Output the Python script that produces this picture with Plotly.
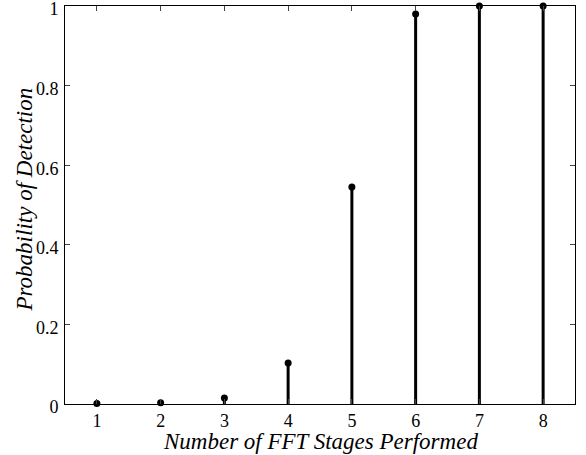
import plotly.graph_objects as go

stages = [1, 2, 3, 4, 5, 6, 7, 8]
prob_detection = [0.001, 0.003, 0.015, 0.103, 0.545, 0.98, 1.0, 1.0]
x_ticks = [1, 2, 3, 4, 5, 6, 7, 8]
y_ticks = [0, 0.2, 0.4, 0.6, 0.8, 1]
y_tick_labels = ["0", "0.2", "0.4", "0.6", "0.8", "1"]
x_title = "Number of FFT Stages Performed"
y_title = "Probability of Detection"

stem_x, stem_y = [], []
for s, p in zip(stages, prob_detection):
    stem_x += [s, s, None]
    stem_y += [0, p, None]

fig = go.Figure()
fig.add_trace(go.Scatter(x=stem_x, y=stem_y, mode="lines",
                         line=dict(color="black", width=3), hoverinfo="skip",
                         cliponaxis=False))
fig.add_trace(go.Scatter(x=stages, y=prob_detection, mode="markers",
                         marker=dict(color="black", size=7), cliponaxis=False))

font = "Liberation Serif, Times New Roman, serif"
fig.update_layout(
    width=586, height=455,
    margin=dict(l=65, r=11, t=6, b=51, autoexpand=False),
    paper_bgcolor="white", plot_bgcolor="white",
    showlegend=False,
    font=dict(family=font, color="black", size=18),
    xaxis=dict(range=[0.5, 8.5], tickvals=x_ticks, ticks="inside", ticklen=5,
               showline=True, mirror="ticks", linecolor="black", linewidth=1,
               showgrid=False, zeroline=False, tickfont=dict(size=18),
               ticklabeloverflow="allow", automargin=False,
               ticklabelstandoff=0),
    yaxis=dict(range=[0, 1], tickvals=y_ticks, ticktext=y_tick_labels,
               ticks="inside", ticklen=5,
               showline=True, mirror="ticks", linecolor="black", linewidth=1,
               showgrid=False, zeroline=False, tickfont=dict(size=18),
               ticklabeloverflow="allow", automargin=False,
               ticklabelstandoff=2, ticklabelshift=3),
    annotations=[
        dict(text="<i>" + x_title + "</i>", xref="paper", yref="paper",
             x=0.5, y=-0.094, xanchor="center", yanchor="middle",
             showarrow=False, font=dict(size=23, family=font)),
        dict(text="<i>" + y_title + "</i>", xref="paper", yref="paper",
             x=-0.079, y=0.513, xanchor="center", yanchor="middle",
             textangle=-90, showarrow=False, font=dict(size=23, family=font)),
    ],
)
fig.write_html("out.html", config={"displayModeBar": False},
               post_script="document.body.style.margin='0';document.body.style.overflow='hidden';")
